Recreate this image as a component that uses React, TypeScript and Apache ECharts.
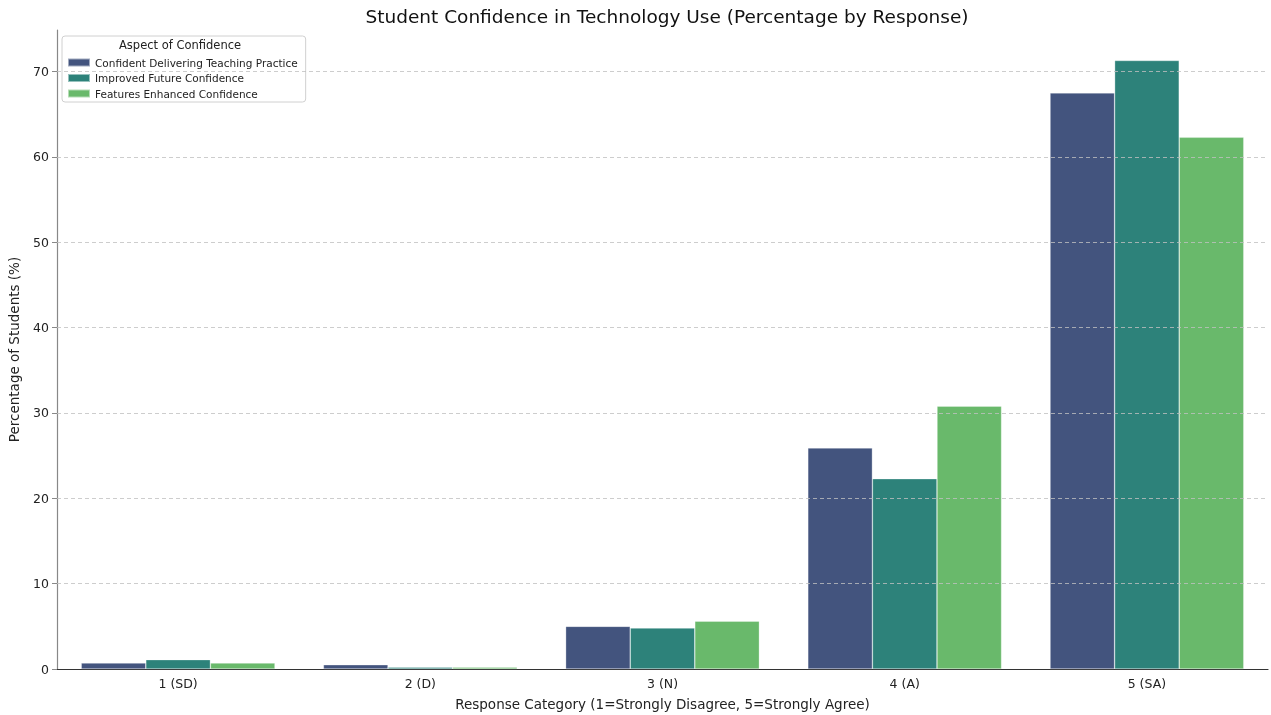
import React, { useEffect, useRef } from "react";
import * as echarts from "echarts";

const categories = ["1 (SD)", "2 (D)", "3 (N)", "4 (A)", "5 (SA)"];
const seriesNames = [
  "Confident Delivering Teaching Practice",
  "Improved Future Confidence",
  "Features Enhanced Confidence",
];
const deliveringValues = [0.7, 0.5, 5.0, 25.9, 67.5];
const futureValues = [1.1, 0.2, 4.8, 22.3, 71.3];
const featuresValues = [0.7, 0.2, 5.6, 30.8, 62.3];
const yTicks = [0, 10, 20, 30, 40, 50, 60, 70];
const gridValues = [10, 20, 30, 40, 50, 60, 70];
const colors = ["#43547e", "#2d827a", "#69b96b"];

const FONT = "'DejaVu Sans', sans-serif";

export default function App() {
  const ref = useRef<HTMLDivElement>(null);
  useEffect(() => {
    if (!ref.current) return;
    const chart = echarts.init(ref.current, undefined, { renderer: "svg" });
    const data = [deliveringValues, futureValues, featuresValues];
    chart.setOption({
      animation: false,
      textStyle: { fontFamily: FONT },
      title: {
        text: "Student Confidence in Technology Use (Percentage by Response)",
        left: 662,
        textAlign: "center",
        top: 2,
        textStyle: { fontSize: 18.5, fontWeight: "normal", color: "#111", fontFamily: FONT },
      },
      grid: { left: 57, right: 3, top: 30, bottom: 46, containLabel: false, outerBoundsMode: "none" },
      legend: {
        orient: "vertical",
        left: 62,
        top: 36,
        padding: [21, 8, 3, 5],
        backgroundColor: "#fff",
        borderColor: "#d0d0d0",
        borderWidth: 1,
        borderRadius: 3,
        itemWidth: 22,
        itemHeight: 8,
        itemGap: 4.5,
        icon: "rect",
        textStyle: { fontSize: 10.5, color: "#222", fontFamily: FONT },
        data: seriesNames,
      },
      graphic: [
        {
          type: "text",
          left: 119,
          top: 39,
          z: 100,
          style: { text: "Aspect of Confidence", fontSize: 11.5, fill: "#222", fontFamily: FONT },
        },
      ],
      xAxis: {
        type: "category",
        data: categories,
        name: "Response Category (1=Strongly Disagree, 5=Strongly Agree)",
        nameLocation: "middle",
        nameGap: 28,
        nameTextStyle: { fontSize: 13.5, color: "#222", fontFamily: FONT },
        axisLine: { lineStyle: { color: "#333", width: 1.2 } },
        axisTick: { alignWithLabel: true, length: 5, lineStyle: { color: "#333" } },
        axisLabel: { fontSize: 12.5, color: "#222", margin: 8, fontFamily: FONT },
      },
      yAxis: {
        type: "value",
        min: 0,
        max: 74.87,
        name: "Percentage of Students (%)",
        nameLocation: "middle",
        nameGap: 36,
        nameTextStyle: { fontSize: 13.5, color: "#222", fontFamily: FONT },
        axisLine: { show: true, lineStyle: { color: "#888", width: 1.2 } },
        axisTick: { show: true, length: 5, customValues: yTicks, lineStyle: { color: "#888" } },
        axisLabel: { fontSize: 12.5, color: "#222", margin: 8, fontFamily: FONT, customValues: yTicks },
        splitLine: { show: false },
      },
      series: seriesNames.map((name, i) => ({
        name,
        type: "bar",
        data: data[i],
        barGap: "0%",
        barCategoryGap: "20%",
        itemStyle: { color: colors[i], borderColor: "rgba(255,255,255,0.5)", borderWidth: 0.6 },
        markLine:
          i === 2
            ? {
                silent: true,
                symbol: "none",
                label: { show: false },
                lineStyle: { color: "#c0c0c0", type: [4, 3], width: 0.8 },
                data: gridValues.map((v) => ({ yAxis: v })),
              }
            : undefined,
      })),
    });
    return () => chart.dispose();
  }, []);
  return (
    <div
      ref={ref}
      style={{ position: "fixed", left: 0, top: 0, width: 1271, height: 715 }}
    />
  );
}
